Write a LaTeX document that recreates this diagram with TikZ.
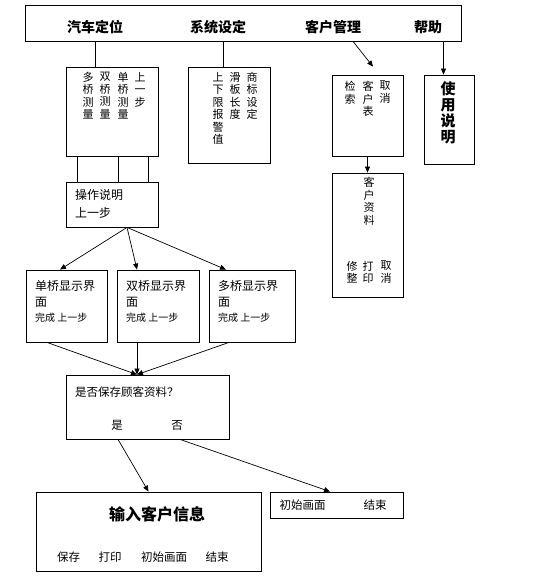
\documentclass[tikz,border=0pt]{standalone}
\usepackage{fontspec}
\setmainfont{Noto Sans CJK SC}
\usetikzlibrary{arrows.meta,positioning}
\tikzset{
  box/.style  ={draw,line width=0.8pt,inner sep=0pt},
  vtxt/.style ={align=center,inner sep=0pt,anchor=north,font=\fontsize{11}{12.5}\selectfont},
  htxt/.style ={inner sep=0pt,anchor=west,font=\fontsize{12}{14}\selectfont},
  stxt/.style ={inner sep=0pt,anchor=west,font=\fontsize{10}{12}\selectfont},
  ctxt/.style ={inner sep=0pt,font=\fontsize{11.5}{14}\selectfont},
  head/.style ={inner sep=0pt,font=\bfseries\fontsize{14}{16}\selectfont},
  flow/.style ={-{Triangle[length=6pt,width=5pt]},line width=0.7pt},
  link/.style ={line width=0.7pt},
}

\begin{document}
\begin{tikzpicture}[x=1pt,y=-1pt]
  \useasboundingbox (0,0) rectangle (538,581);
  % menu bar
  \node[box,minimum width=436pt,minimum height=36pt] (bar) at (243,23) {};
  \node[head] (m1) at (95,27) {汽车定位};
  \node[head] (m2) at (218,27) {系统设定};
  \node[head] (m3) at (333,27) {客户管理};
  \node[head] (m4) at (428,27) {帮助};
  % sub menus
  \node[box,minimum width=92pt,minimum height=89pt] (b1) at (112,111.5) {};
  \node[vtxt] at (88,72) {多\\桥\\测\\量};
  \node[vtxt] at (105,72) {双\\桥\\测\\量};
  \node[vtxt] at (123,72) {单\\桥\\测\\量};
  \node[vtxt] at (140,72) {上\\一\\步};
  \node[box,minimum width=82pt,minimum height=96pt] (b2) at (229,115) {};
  \node[vtxt] at (218,72) {上\\下\\限\\报\\警\\值};
  \node[vtxt] at (235,72) {滑\\板\\长\\度};
  \node[vtxt] at (252,72) {商\\标\\设\\定};
  \node[box,minimum width=71pt,minimum height=81pt] (b3) at (367.5,115.5) {};
  \node[vtxt] at (350,81) {检\\索};
  \node[vtxt] at (368,81) {客\\户\\表};
  \node[vtxt] at (385,81) {取\\消};
  \node[box,minimum width=50pt,minimum height=89pt] (b4) at (449,119.5) {};
  \node[vtxt,font=\bfseries\fontsize{15}{16}\selectfont] at (448,81) {使\\用\\说\\明};
  \node[box,minimum width=71pt,minimum height=124pt] (b5) at (367.5,235) {};
  \node[vtxt] at (369,177) {客\\户\\资\\料};
  \node[vtxt] at (352,261) {修\\整};
  \node[vtxt] at (368,261) {打\\印};
  \node[vtxt] at (386,261) {取\\消};
  \draw[link] (m1 |- bar.south) -- (m1 |- b1.north);
  \draw[link] ([xshift=-6pt]b2.north |- bar.south) -- ([xshift=-6pt]b2.north);
  \draw[flow] ([xshift=-14.5pt]b3.north |- bar.south) -- ([xshift=5.5pt,yshift=8pt]b3.north);
  \draw[flow] ([xshift=-5.5pt]b4.north |- bar.south) -- ([xshift=-5.5pt]b4.north);
  \draw[flow] (b3.south) -- (b5.north);
  % measuring flow
  \node[box,minimum width=92pt,minimum height=45pt] (op) at (112,204.5) {};
  \node[htxt] at (75,195) {操作说明};
  \node[htxt] at (75,213) {上一步};
  \foreach \d in {-35,6,36}
    \draw[link] ([xshift=\d pt]b1.south) -- ([xshift=\d pt]op.north);
  \node[box,minimum width=81pt,minimum height=72pt] (sA) at (66.5,306) {};
  \node[box,minimum width=82pt,minimum height=72pt] (sB) at (158,306) {};
  \node[box,minimum width=86pt,minimum height=72pt] (sC) at (252,306) {};
  \foreach \n/\x/\t in {sA/35/单,sB/126/双,sC/218/多}{
    \node[htxt] at (\x,286) {\t 桥显示界};
    \node[htxt] at (\x,302) {面};
    \node[stxt] at (\x,318) {完成 上一步};
  }
  \draw[flow] ([xshift=15pt]op.south) -- ([xshift=-6.5pt]sA.north);
  \draw[flow] ([xshift=15pt]op.south) -- ([xshift=-21pt]sB.north);
  \draw[flow] ([xshift=15pt]op.south) -- ([xshift=-26pt]sC.north);
  \node[box,minimum width=163pt,minimum height=64pt] (q) at (147.5,407) {};
  \node[htxt,font=\fontsize{11.5}{14}\selectfont] at (75,392) {是否保存顾客资料？};
  \node[ctxt] at (117,425) {是};
  \node[ctxt] at (177,425) {否};
  \draw[flow] ([xshift=-19.5pt]sA.south) -- ([xshift=-10.5pt]q.north);
  \draw[flow] ([xshift=-21pt]sB.south) -- ([xshift=-10.5pt]q.north);
  \draw[flow] ([xshift=-23pt]sC.south) -- ([xshift=-10.5pt]q.north);
  % save or leave
  \node[box,minimum width=225pt,minimum height=79pt] (inp) at (148.5,531.5) {};
  \node[head,font=\bfseries\fontsize{16}{18}\selectfont] at (157,514) {输入客户信息};
  \node[ctxt] at (68.5,557) {保存};
  \node[ctxt] at (110,557) {打印};
  \node[ctxt] at (164,557) {初始画面};
  \node[ctxt] at (217,557) {结束};
  \node[box,minimum width=133pt,minimum height=26pt] (fin) at (336.5,505) {};
  \node[ctxt] at (302.5,505) {初始画面};
  \node[ctxt] at (375,505) {结束};
  \draw[flow] ([xshift=-29.5pt]q.south) -- (inp.north);
  \draw[flow] ([xshift=32.5pt]q.south) -- ([xshift=-6.5pt]fin.north);
\end{tikzpicture}
\end{document}
